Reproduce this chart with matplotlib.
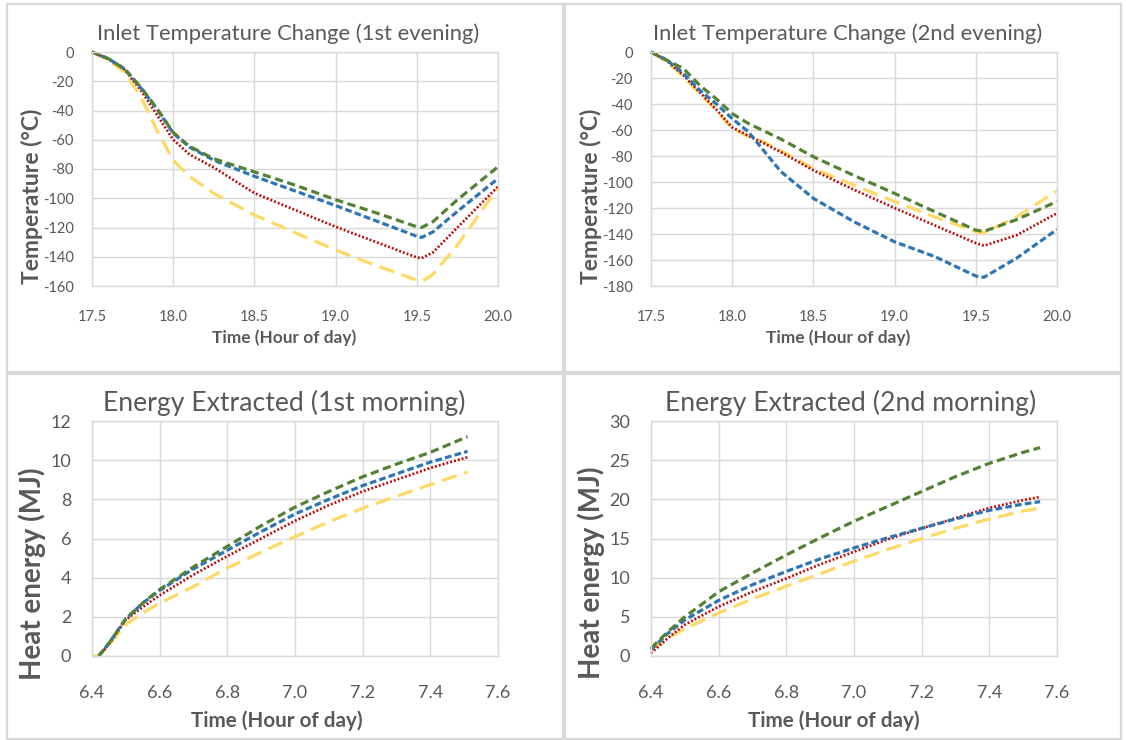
import matplotlib
matplotlib.use("Agg")
import matplotlib.pyplot as plt
from matplotlib.patches import Rectangle

# ---------------- data ----------------
# Panel 1: Inlet Temperature Change (1st evening)
t1 = [17.5, 17.6, 17.7, 17.8, 17.9, 18.0, 18.1, 18.25, 18.5, 18.75, 19.0, 19.25, 19.5, 19.53, 19.6, 19.75, 20.0]
p1_green  = [0, -4.5, -11.5, -24, -38.7, -55, -64.5, -73, -82, -91, -101, -110, -119.5, -120, -116, -101, -78.5]
p1_blue   = [0, -4.5, -11.5, -24.5, -39, -55.5, -65, -74, -85, -95, -105, -115.5, -126, -126.8, -123, -109, -86.5]
p1_red    = [0, -4.8, -12, -26, -43, -60, -70, -79, -96.5, -108, -119.5, -130, -140.5, -141, -137, -120, -92]
p1_yellow = [0, -5.5, -13.6, -30.7, -53.5, -74, -85, -96.7, -111.5, -123.5, -135.4, -146, -156, -157, -152, -132, -93]

# Panel 2: Inlet Temperature Change (2nd evening)
t2 = [17.5, 17.6, 17.7, 17.8, 17.9, 18.0, 18.1, 18.2, 18.3, 18.5, 18.75, 19.0, 19.25, 19.5, 19.55, 19.75, 20.0]
p2_green  = [0, -6.4, -12.8, -25.6, -35.8, -47.4, -55, -61, -67, -80.6, -95, -108.8, -123, -137, -138, -129, -115]
p2_blue   = [0, -6.4, -16.6, -29.4, -39.7, -51.2, -61.4, -76.8, -92, -112.6, -130.6, -146, -157.5, -172.3, -173.3, -158.7, -136.5]
p2_red    = [0, -7.0, -18, -31, -44, -58, -64.5, -70.5, -77, -91, -106, -120, -133.5, -147, -149, -141, -124]
p2_yellow = [0, -7.7, -19, -32, -44.8, -58.9, -65, -69.5, -76, -89.6, -102.5, -115, -127, -138.2, -139, -127, -106.8]

# Panel 3: Energy Extracted (1st morning)
t3a = [6.42, 6.45, 6.5, 6.55, 6.6, 6.7, 6.8, 6.9, 7.0, 7.1, 7.2, 7.3, 7.4, 7.51]
p3_green  = [0, 0.65, 1.9, 2.7, 3.4, 4.55, 5.6, 6.65, 7.6, 8.4, 9.15, 9.8, 10.4, 11.2]
p3_blue   = [0, 0.65, 1.9, 2.7, 3.35, 4.45, 5.4, 6.35, 7.25, 8.0, 8.7, 9.3, 9.9, 10.45]
p3_red    = [0, 0.6, 1.85, 2.5, 3.1, 4.15, 5.1, 6.0, 6.9, 7.7, 8.4, 9.0, 9.6, 10.15]
t3y = [6.40, 6.42, 6.45, 6.5, 6.55, 6.6, 6.7, 6.8, 6.9, 7.0, 7.1, 7.2, 7.3, 7.4, 7.51]
p3_yellow = [0, 0, 0.55, 1.6, 2.2, 2.7, 3.55, 4.5, 5.3, 6.1, 6.85, 7.55, 8.15, 8.75, 9.4]

# Panel 4: Energy Extracted (2nd morning)
t4 = [6.4, 6.45, 6.5, 6.6, 6.7, 6.8, 6.9, 7.0, 7.1, 7.2, 7.3, 7.4, 7.5, 7.55]
p4_green  = [1.0, 3.1, 5.0, 8.2, 10.6, 12.9, 15.1, 17.2, 19.1, 21.0, 22.9, 24.6, 26.0, 26.6]
p4_blue   = [0.8, 2.9, 4.6, 7.1, 9.1, 10.8, 12.4, 13.8, 15.1, 16.3, 17.5, 18.6, 19.4, 19.7]
p4_red    = [0.35, 2.3, 4.0, 6.3, 8.2, 9.9, 11.7, 13.3, 14.9, 16.3, 17.6, 18.9, 19.9, 20.3]
p4_yellow = [0.8, 2.3, 3.5, 5.5, 7.3, 8.9, 10.5, 12.1, 13.6, 15.0, 16.3, 17.5, 18.5, 18.9]

titles = ["Inlet Temperature Change (1st evening)", "Inlet Temperature Change (2nd evening)",
          "Energy Extracted (1st morning)", "Energy Extracted (2nd morning)"]
xlabel = "Time (Hour of day)"
ylabels = ["Temperature (°C)", "Temperature (°C)", "Heat energy (MJ)", "Heat energy (MJ)"]

# ---------------- style ----------------
GREEN = "#548235"
BLUE = "#2E75B6"
RED = "#C00000"
YELLOW = "#FFD966"
GRID = "#D9D9D9"
TXT = "#595959"
FONT = "Lato"

W, H = 1126, 740
fig = plt.figure(figsize=(W / 100, H / 100), dpi=100)

def fx(px):
    return px / W

def fy(py):
    return 1 - py / H

# chart boxes
for (x0, y0, x1, y1) in [(7, 4, 563, 372), (565, 4, 1121, 372), (7, 374, 563, 739), (565, 374, 1121, 739)]:
    fig.patches.append(Rectangle((fx(x0), fy(y1)), fx(x1 - x0), (y1 - y0) / H,
                                 transform=fig.transFigure, fill=False, edgecolor=GRID, lw=1.6))

# axes rectangles in pixels (left, top, right, bottom)
boxes = [(92, 52, 498, 286), (651, 52, 1057, 286), (92, 421, 498, 656), (651, 421, 1057, 656)]
axes = []
for (l, t, r, b) in boxes:
    ax = fig.add_axes([fx(l), fy(b), fx(r - l), (b - t) / H])
    axes.append(ax)

def draw(ax, x, y, color, kind):
    if kind == "green":
        ln, = ax.plot(x, y, color=color, lw=2.3)
        ln.set_dashes((2.6, 1.4))
    elif kind == "blue":
        ln, = ax.plot(x, y, color=color, lw=2.3)
        ln.set_dashes((2.1, 1.0))
    elif kind == "red":
        ln, = ax.plot(x, y, color=color, lw=1.9)
        ln.set_dashes((0.7, 0.8))
    else:
        ln, = ax.plot(x, y, color=color, lw=2.3)
        ln.set_dashes((4.9, 2.4))
    ln.set_clip_on(False)

a1, a2, a3, a4 = axes
for ax, xs, series in [
    (a1, (t1, t1, t1, t1), (p1_yellow, p1_red, p1_blue, p1_green)),
    (a2, (t2, t2, t2, t2), (p2_yellow, p2_red, p2_blue, p2_green)),
    (a3, (t3y, t3a, t3a, t3a), (p3_yellow, p3_red, p3_blue, p3_green)),
    (a4, (t4, t4, t4, t4), (p4_yellow, p4_red, p4_blue, p4_green)),
]:
    for xx, yy, c, k in zip(xs, series, (YELLOW, RED, BLUE, GREEN), ("yellow", "red", "blue", "green")):
        draw(ax, xx, yy, c, k)

# axis settings
a1.set_xlim(17.5, 20.0); a1.set_ylim(-160, 0)
a1.set_xticks([17.5, 18.0, 18.5, 19.0, 19.5, 20.0]); a1.set_yticks(range(-160, 1, 20))
a2.set_xlim(17.5, 20.0); a2.set_ylim(-180, 0)
a2.set_xticks([17.5, 18.0, 18.5, 19.0, 19.5, 20.0]); a2.set_yticks(range(-180, 1, 20))
a3.set_xlim(6.4, 7.6); a3.set_ylim(0, 12)
a3.set_xticks([6.4, 6.6, 6.8, 7.0, 7.2, 7.4, 7.6]); a3.set_yticks(range(0, 13, 2))
a4.set_xlim(6.4, 7.6); a4.set_ylim(0, 30)
a4.set_xticks([6.4, 6.6, 6.8, 7.0, 7.2, 7.4, 7.6]); a4.set_yticks(range(0, 31, 5))

for i, ax in enumerate(axes):
    top = i < 2
    ax.grid(True, color=GRID, lw=1.0)
    ax.set_axisbelow(True)
    for s in ax.spines.values():
        s.set_color(GRID)
        s.set_linewidth(1.0)
    ax.tick_params(length=0, colors=TXT, labelsize=10.5 if top else 13,
                   pad=13 if top else 15)
    ax.tick_params(axis="x", pad=17 if top else 21)
    ax.set_xticklabels(["%.1f" % v for v in ax.get_xticks()], fontfamily=FONT)
    ax.set_yticklabels(["%d" % v for v in ax.get_yticks()], fontfamily=FONT)

# titles and axis labels (figure pixel positions)
title_pos = [(288, 34), (848, 34), (284, 403), (851, 403)]
title_size = [15.8, 15.8, 19.2, 19.2]
xlabel_pos = [(284, 338), (838, 338), (277, 721), (834, 721)]
xlabel_size = [12.4, 12.4, 14.9, 14.9]
ylabel_pos = [(32, 196), (591, 196), (32, 574), (591, 573)]
ylabel_size = [16.5, 16.5, 20, 20]

for i in range(4):
    fig.text(fx(title_pos[i][0]), fy(title_pos[i][1]), titles[i], ha="center", va="center",
             color=TXT, fontsize=title_size[i], fontfamily=FONT)
    fig.text(fx(xlabel_pos[i][0]), fy(xlabel_pos[i][1]), xlabel, ha="center", va="center",
             color=TXT, fontsize=xlabel_size[i], fontfamily=FONT, fontweight="bold")
    fig.text(fx(ylabel_pos[i][0]), fy(ylabel_pos[i][1]), ylabels[i], ha="center", va="center",
             rotation=90, color=TXT, fontsize=ylabel_size[i], fontfamily=FONT, fontweight="bold")

fig.savefig("out.png", dpi=100, facecolor="white")
